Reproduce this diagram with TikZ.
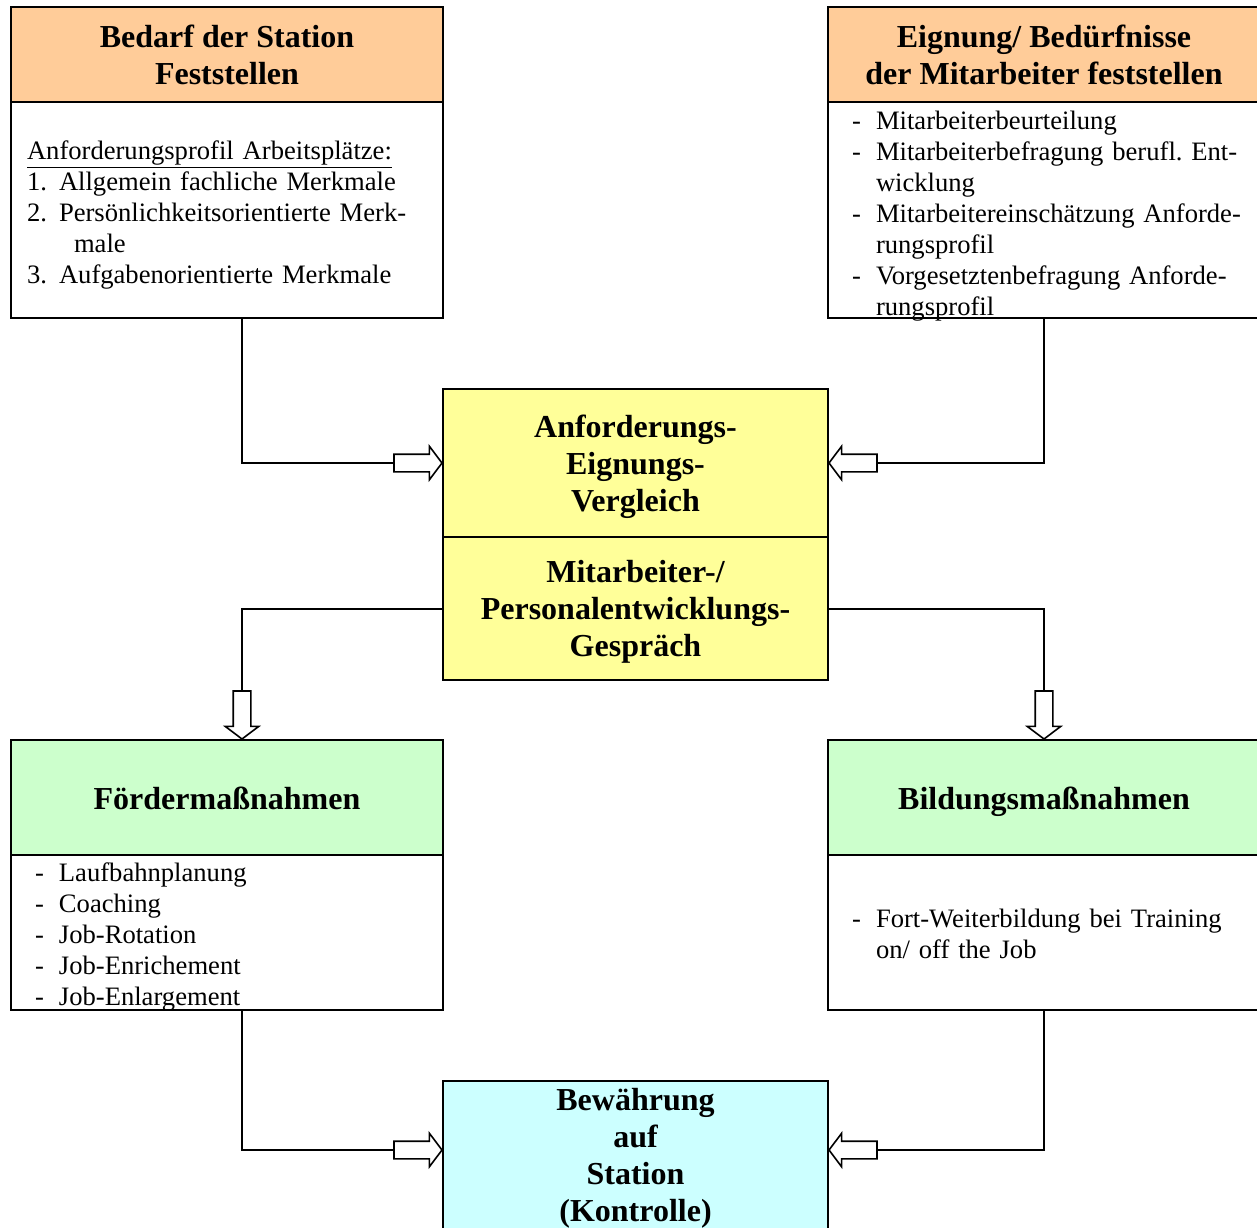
\documentclass[tikz,border=0pt]{standalone}
\usepackage{fontspec}
\setmainfont{Liberation Serif}
\usetikzlibrary{positioning,shapes.arrows}

\definecolor{headorange}{HTML}{FFCC99}
\definecolor{cmpyellow}{HTML}{FFFF99}
\definecolor{actgreen}{HTML}{CCFFCC}
\definecolor{ctrlcyan}{HTML}{CCFFFF}

\newcommand{\titlefont}{\fontsize{16}{18.5}\selectfont\bfseries}
\newcommand{\bodyfont}{\fontsize{13.3}{15.5}\selectfont\frenchspacing}
\newcommand{\dashitem}[1]{\makebox[12pt][l]{-}#1}
\newcommand{\dashcont}{\hspace*{12pt}}
\newcommand{\numitem}[2]{\makebox[16pt][l]{#1}#2}

\begin{document}
\begin{tikzpicture}[x=1pt,y=-1pt,
    box/.style={draw, line width=1pt, outer sep=0pt, minimum width=216},
    headbox/.style={box, align=center, font=\titlefont},
    greenhead/.style={headbox, fill=actgreen, minimum height=57.5, text height=13.5pt, text depth=1.5pt},
    bodybox/.style={box, fill=white, align=left, font=\bodyfont, inner xsep=8pt, inner ysep=0pt},
    midbox/.style={box, fill=cmpyellow, minimum width=192.5, text width=192.5pt, inner sep=0pt, align=center, font=\titlefont},
    hollowarrow/.style={single arrow, draw, fill=white, line width=0.8pt, anchor=tip,
        minimum height=24, minimum width=16, inner xsep=0pt, inner ysep=4pt,
        single arrow head extend=4pt, single arrow tip angle=106},
    downarrow/.style={hollowarrow, shape border rotate=270, inner xsep=4pt, inner ysep=0pt},
    link/.style={line width=1pt}]
    \useasboundingbox (0,0) rectangle (628.5,613.5);
    \node[headbox, fill=headorange, minimum height=47.5, anchor=north west] (bedarf) at (5.5,3.5) {Bedarf der Station\\Feststellen};
    \node[bodybox, text width=200pt, text height=28.65pt, text depth=79.35pt, below=0pt of bedarf] (bedarftext) {\underline{Anforderungsprofil Arbeitsplätze:}\\
        \numitem{1.}{Allgemein fachliche Merkmale}\\
        \numitem{2.}{Persönlichkeitsorientierte Merk-}\\
        \hspace*{23.5pt}male\\
        \numitem{3.}{Aufgabenorientierte Merkmale}};
    \node[headbox, fill=headorange, minimum height=47.5, anchor=north west] (eignung) at (414,3.5) {Eignung/ Bedürfnisse\\der Mitarbeiter feststellen};
    \node[bodybox, text width=200pt, inner xsep=12pt, text height=13.65pt, text depth=94.35pt, below=0pt of eignung.south west, anchor=north west] (eignungtext) {\dashitem{Mitarbeiterbeurteilung}\\
        \dashitem{Mitarbeiterbefragung berufl. Ent-}\\
        \dashcont wicklung\\
        \dashitem{Mitarbeitereinschätzung Anforde-}\\
        \dashcont rungsprofil\\
        \dashitem{Vorgesetztenbefragung Anforde-}\\
        \dashcont rungsprofil};
    \node[midbox, text height=24.25pt, text depth=49.75pt, anchor=north west] (vergleich) at (221.5,194.5) {Anforderungs-\\Eignungs-\\Vergleich};
    \node[midbox, text height=22.5pt, text depth=49pt, below=0pt of vergleich] (gespraech) {Mitarbeiter-/\\Personalentwicklungs-\\Gespräch};
    \node[greenhead, anchor=north west] (foerder) at (5.5,370) {Fördermaßnahmen};
    \node[bodybox, text width=192pt, inner xsep=12pt, text height=13.15pt, text depth=64.35pt, below=0pt of foerder] (foerdertext) {\dashitem{Laufbahnplanung}\\
        \dashitem{Coaching}\\
        \dashitem{Job-Rotation}\\
        \dashitem{Job-Enrichement}\\
        \dashitem{Job-Enlargement}};
    \node[greenhead, anchor=north west] (bildung) at (414,370) {Bildungsmaßnahmen};
    \node[bodybox, text width=200pt, inner xsep=12pt, text height=36.15pt, text depth=41.35pt, below=0pt of bildung.south west, anchor=north west] (bildungtext) {\dashitem{Fort-Weiterbildung bei Training}\\
        \dashcont on/ off the Job};
    \node[midbox, fill=ctrlcyan, text height=14.75pt, text depth=59.75pt, anchor=north west] (bewaehrung) at (221.5,540.5) {Bewährung\\auf\\Station\\(Kontrolle)};
    \node[hollowarrow] (a1) at (vergleich.west) {};
    \node[hollowarrow, shape border rotate=180] (a2) at (vergleich.east) {};
    \node[downarrow] (a3) at (121,370) {};
    \node[downarrow] (a4) at (bildung.north) {};
    \node[hollowarrow] (a5) at (221.5,575) {};
    \node[hollowarrow, shape border rotate=180] (a6) at (414,575) {};
    \draw[link] (bedarftext.south -| a3) |- (a1.tail);
    \draw[link] (eignungtext.south -| a4) |- (a2.tail);
    \draw[link] (gespraech.west) -| (a3.tail);
    \draw[link] (gespraech.east) -| (a4.tail);
    \draw[link] (foerdertext.south -| a3) |- (a5.tail);
    \draw[link] (bildungtext.south -| a4) |- (a6.tail);
\end{tikzpicture}
\end{document}
